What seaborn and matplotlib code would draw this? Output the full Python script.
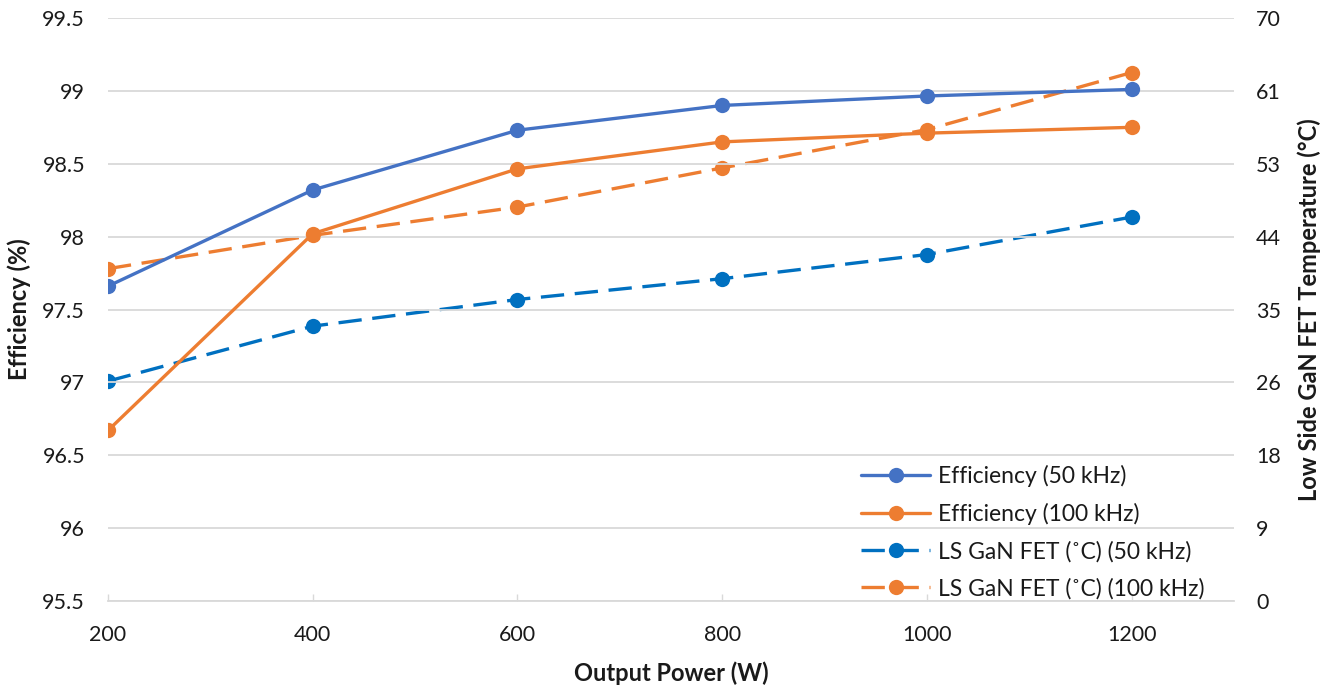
import matplotlib
matplotlib.use("Agg")
import matplotlib.pyplot as plt
import seaborn as sns
import pandas as pd
from matplotlib.ticker import FixedLocator

power = [200, 400, 600, 800, 1000, 1200]
eff_50k = [97.66, 98.32, 98.73, 98.90, 98.965, 99.01]
eff_100k = [96.67, 98.02, 98.465, 98.65, 98.71, 98.75]
temp_50k = [26.4, 33.0, 36.2, 38.7, 41.6, 46.1]
temp_100k = [39.9, 43.9, 47.3, 52.0, 56.6, 63.45]

x_ticks = [200, 400, 600, 800, 1000, 1200]
left_ticks = [95.5, 96, 96.5, 97, 97.5, 98, 98.5, 99, 99.5]
left_labels = ["95.5", "96", "96.5", "97", "97.5", "98", "98.5", "99", "99.5"]
right_ticks = [0, 8.75, 17.5, 26.25, 35, 43.75, 52.5, 61.25, 70]
right_labels = ["0", "9", "18", "26", "35", "44", "53", "61", "70"]

labels = ["Efficiency (50 kHz)", "Efficiency (100 kHz)",
          "LS GaN FET (\u02daC) (50 kHz)", "LS GaN FET (\u02daC) (100 kHz)"]

sns.set_theme(style="white")
plt.rcParams['font.family'] = ['Lato', 'DejaVu Sans']

FS = 15.5
LFS = 16.5
AFS = 17
TXT = "#1a1a1a"
GRID = "#d9d9d9"
C_BLUE = "#4472C4"
C_ORANGE = "#ED7D31"
C_DBLUE = "#0070C0"

fig = plt.figure(figsize=(13.28, 6.86), dpi=100)
ax = fig.add_axes([108/1328, 1-601/686, 1126/1328, 583/686])
ax2 = ax.twinx()

df = pd.DataFrame({"power": power, "eff50": eff_50k, "eff100": eff_100k,
                   "t50": temp_50k, "t100": temp_100k})

lw = 2.4
ms = 11
dash = (0, (7.0, 3.2))

sns.lineplot(data=df, x="power", y="eff50", ax=ax, color=C_BLUE, marker="o",
             markersize=ms, linewidth=lw, markeredgewidth=0, label=labels[0], zorder=3)
sns.lineplot(data=df, x="power", y="eff100", ax=ax, color=C_ORANGE, marker="o",
             markersize=ms, linewidth=lw, markeredgewidth=0, label=labels[1], zorder=3)
sns.lineplot(data=df, x="power", y="t50", ax=ax2, color=C_DBLUE, marker="o",
             markersize=ms, linewidth=lw, markeredgewidth=0, linestyle=dash, label=labels[2])
sns.lineplot(data=df, x="power", y="t100", ax=ax2, color=C_ORANGE, marker="o",
             markersize=ms, linewidth=lw, markeredgewidth=0, linestyle=dash, label=labels[3])

ax.set_xlim(200, 1300)
ax.set_ylim(95.5, 99.5)
ax2.set_ylim(0, 70)

ax.xaxis.set_major_locator(FixedLocator(x_ticks))
ax.set_xticklabels([str(v) for v in x_ticks])
ax.yaxis.set_major_locator(FixedLocator(left_ticks))
ax.set_yticklabels(left_labels)
ax2.yaxis.set_major_locator(FixedLocator(right_ticks))
ax2.set_yticklabels(right_labels)

ax.grid(True, axis="y", color=GRID, linewidth=1.3)
ax.grid(False, axis="x")
ax2.grid(False)
for a in (ax, ax2):
    for s in a.spines.values():
        s.set_visible(False)
ax.spines["bottom"].set_visible(True)
ax.spines["bottom"].set_color(GRID)
ax.spines["bottom"].set_linewidth(1.3)

ax.tick_params(axis="x", direction="in", length=5, width=1.0, color=GRID,
               labelsize=FS, labelcolor=TXT, pad=17, bottom=True)
ax.tick_params(axis="y", length=0, labelsize=FS, labelcolor=TXT, pad=16.5)
ax2.tick_params(axis="y", length=0, labelsize=FS, labelcolor=TXT, pad=16)

ax.set_xlabel("Output Power (W)", fontsize=AFS, fontweight="bold", color=TXT, labelpad=12)
ax.set_ylabel("Efficiency (%)", fontsize=AFS, fontweight="bold", color=TXT, labelpad=8)
ax2.set_ylabel("Low Side GaN FET Temperature (\u00b0C)", fontsize=AFS, fontweight="bold",
               color=TXT, labelpad=12)

ax.set_zorder(ax2.get_zorder() + 1)
ax.patch.set_visible(False)

h1, l1 = ax.get_legend_handles_labels()
h2, l2 = ax2.get_legend_handles_labels()
if ax.get_legend():
    ax.get_legend().remove()
if ax2.get_legend():
    ax2.get_legend().remove()
leg = ax.legend(h1 + h2, l1 + l2, loc="lower right", bbox_to_anchor=(0.978, -0.005),
                frameon=False, fontsize=LFS, handlelength=3.0, handletextpad=0.35,
                labelspacing=0.68, borderaxespad=0.0, borderpad=0.2)
for t in leg.get_texts():
    t.set_color(TXT)

fig.savefig("out.png", dpi=100)
